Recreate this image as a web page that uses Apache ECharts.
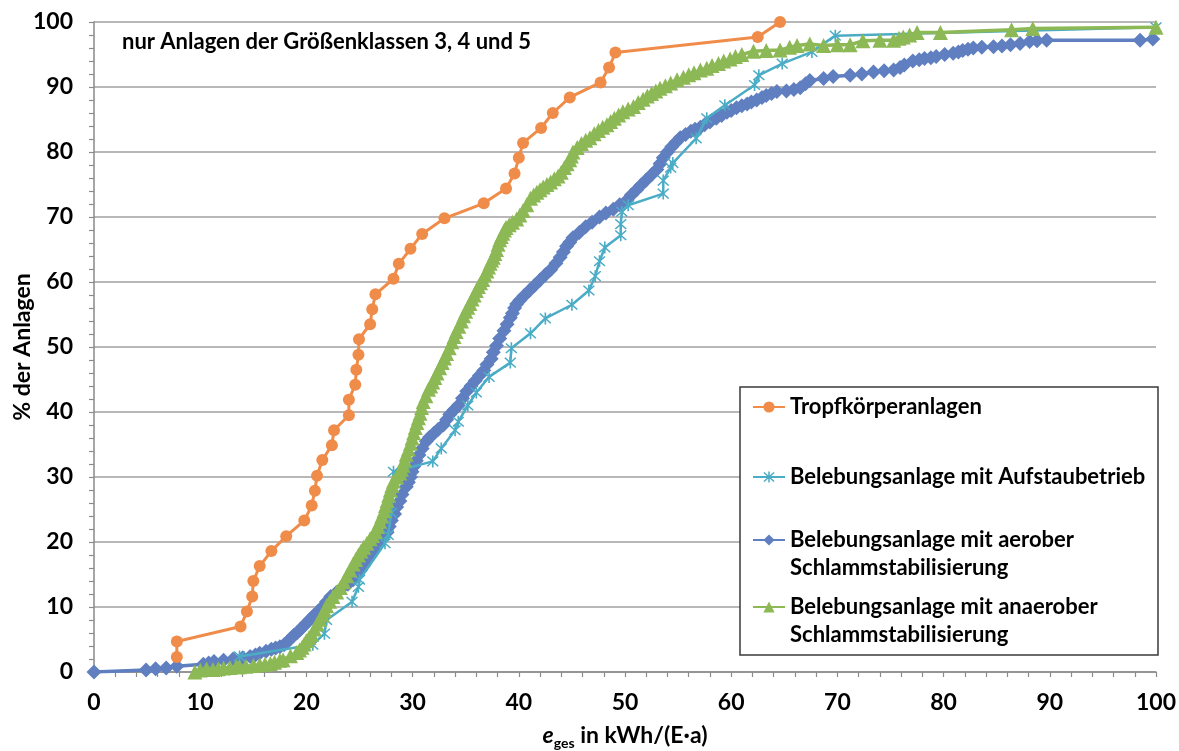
<!DOCTYPE html>
<html><head><meta charset="utf-8">
<script src="https://cdn.jsdelivr.net/npm/echarts@6/dist/echarts.min.js"></script>
<style>html,body{margin:0;padding:0;background:#fff}#c{width:1179px;height:751px}</style>
</head><body><div id="c"></div>
<script>
// ---- data (x: e_ges in kWh/(E·a), y: % der Anlagen) ----
const seriesNames = [
  'Tropfkörperanlagen',
  'Belebungsanlage mit Aufstaubetrieb',
  'Belebungsanlage mit aerober Schlammstabilisierung',
  'Belebungsanlage mit anaerober Schlammstabilisierung'
];
const xTickValues = [0,10,20,30,40,50,60,70,80,90,100];
const yTickValues = [0,10,20,30,40,50,60,70,80,90,100];

const tropf = [[7.8,2.3],[7.8,4.7],[13.8,7.0],[14.4,9.3],[14.9,11.6],[15.0,14.0],[15.6,16.3],[16.7,18.6],[18.1,20.9],[19.8,23.3],[20.5,25.6],[20.8,27.9],[21.0,30.2],[21.5,32.6],[22.4,34.9],[22.6,37.2],[24.0,39.5],[24.0,41.9],[24.6,44.2],[24.7,46.5],[24.9,48.8],[24.95,51.2],[26.0,53.5],[26.2,55.8],[26.5,58.1],[28.2,60.5],[28.7,62.8],[29.8,65.1],[30.9,67.4],[33.0,69.8],[36.7,72.1],[38.8,74.4],[39.6,76.7],[40.0,79.1],[40.4,81.4],[42.1,83.7],[43.2,86.0],[44.8,88.4],[47.7,90.7],[48.5,93.0],[49.1,95.3],[62.5,97.7],[64.6,100]];

const aufstau = [[13.7,2.4],[20.6,4.2],[21.7,5.9],[21.9,8.0],[24.3,10.8],[24.9,13.1],[25.0,14.2],[27.4,19.8],[27.7,21.1],[28.0,24.5],[28.1,27.5],[28.2,30.8],[31.9,32.4],[32.7,34.4],[34.0,37.2],[34.3,38.5],[35.2,41.0],[36.0,43.0],[37.2,45.4],[39.2,47.6],[39.3,49.8],[41.1,52.1],[42.5,54.4],[45.0,56.5],[46.6,58.7],[47.2,60.9],[47.6,63.2],[48.1,65.3],[49.6,67.2],[49.6,68.9],[49.7,70.8],[50.3,71.8],[53.6,73.6],[53.6,75.6],[54.3,77.6],[54.5,78.3],[56.7,82.1],[57.7,85.2],[59.4,87.2],[62.2,90.3],[62.6,91.8],[64.8,93.6],[67.6,95.4],[69.8,97.9],[100,99.2]];

const aerob = [[0,0],[4.9,0.3],[5.8,0.5],[6.8,0.6],[7.8,0.9],[10.3,1.2],[10.8,1.4],[11.3,1.6],[12.2,1.8],[13.1,2.0],[14.0,2.2],[14.7,2.4],[15.2,2.6],[15.6,2.9],[16.2,3.2],[16.7,3.5],[17.1,3.7],[17.5,3.9],[17.9,4.2],
[18.2,4.6],[18.5,5.1],[18.8,5.6],[19.1,6.0],[19.4,6.5],[19.7,7.0],[20.0,7.5],[20.35,8.1],[20.7,8.7],[21.1,9.3],[21.5,10.0],[21.9,10.8],[22.3,11.6],[22.8,12.2],[23.3,12.9],[23.9,13.5],[24.4,14.2],[24.8,14.9],[25.1,15.7],[25.4,16.4],[25.7,17.2],[26.0,17.9],[26.3,18.7],[26.6,19.5],[26.9,20.3],[27.3,20.9],[27.6,21.5],[27.8,22.4],[28.0,23.3],[28.3,24.3],[28.5,25.4],[28.8,26.3],[29.0,27.3],[29.4,28.5],[29.6,29.2],[29.8,30.0],[29.95,30.8],[30.1,31.6],[30.35,32.5],[30.6,33.4],[30.9,34.4],[31.3,35.5],[31.6,36.1],[32.0,36.7],[32.4,37.3],[32.9,38.0],[33.2,38.8],[33.5,39.6],[33.9,40.3],[34.3,41.0],[34.7,42.1],[35.1,43.2],[35.5,44.0],[35.9,44.8],[36.3,45.6],[36.7,46.4],[37.0,47.3],[37.4,48.2],[37.6,49.2],[37.9,50.2],[38.2,51.3],[38.6,52.5],[38.9,53.5],[39.2,54.5],[39.4,55.2],[39.6,56.0],[39.8,56.6],[40.1,57.2],[40.5,57.9],[41.0,58.7],[41.5,59.5],[42.0,60.3],[42.5,61.1],[43.0,61.9],[43.5,62.9],[43.9,63.8],[44.2,64.6],[44.5,65.5],[44.8,66.1],[45.1,66.8],[45.7,67.6],[46.3,68.5],[46.9,69.2],[47.6,70.0],[48.2,70.6],[48.9,71.2],[49.5,71.9],[50.2,72.6],[50.6,73.4],[51.1,74.2],[51.5,74.9],[52.0,75.7],[52.5,76.5],[53.0,77.3],[53.3,78.2],[53.6,79.1],[54.0,80.0],[54.4,80.8],[54.8,81.5],[55.2,82.2],[55.7,82.7],[56.2,83.2],[56.6,83.5],[57.1,83.8],[57.5,84.2],[58.0,84.6],[58.6,85.2],[59.1,85.6],[59.6,86.1],[60.0,86.4],[60.5,86.8],[61.0,87.1],[61.5,87.4],[61.9,87.7],[62.4,88.0],[62.9,88.4],[63.3,88.7],[63.8,89.0],[64.3,89.3],
[65.2,89.4],[65.9,89.6],[66.5,89.9],[67.0,90.5],[67.4,91.0],[68.7,91.3],[69.6,91.6],[71.2,91.8],[72.3,92.0],[73.4,92.3],[74.4,92.5],[75.3,92.6],[75.9,93.0],[76.3,93.4],[77.1,94.0],[77.7,94.2],[78.2,94.4],[78.8,94.5],[79.3,94.7],[80.1,95.0],[80.9,95.2],[81.4,95.4],[81.8,95.6],[82.3,95.8],[82.8,96.0],[83.6,96.1],[84.7,96.2],[85.5,96.3],[86.3,96.5],[87.2,96.7],[88.1,97.0],[88.8,97.1],[89.7,97.2],[98.5,97.2],[99.7,97.4]];

const anaerob = [[9.5,0.0],[10.0,0.3],[10.6,0.5],[11.2,0.4],[11.7,0.5],[12.2,0.6],[12.8,0.7],[13.4,0.8],[13.7,0.8],[14.3,0.9],[15.0,1.0],[15.6,1.1],[16.1,1.2],[16.6,1.3],[17.0,1.5],[17.5,1.8],[17.8,1.9],
[18.5,2.5],[19.1,3.0],[19.35,3.4],[19.6,3.8],[19.8,4.3],[20.0,4.8],[20.25,5.3],[20.5,5.8],[20.75,6.6],[21.0,7.4],[21.25,8.1],[21.5,8.8],[21.7,9.5],[21.9,10.2],[22.2,10.9],[22.5,11.6],[22.85,12.3],[23.2,13.0],[23.5,13.9],[23.8,14.8],[24.1,15.7],[24.4,16.6],[24.65,17.3],[24.9,18.0],[25.15,18.6],[25.4,19.2],[25.7,19.8],[26.0,20.5],[26.25,21.0],[26.5,21.6],[26.7,22.4],[26.9,23.2],[27.1,24.0],[27.3,24.8],[27.45,25.6],[27.6,26.4],[27.75,27.2],[27.9,28.0],[28.05,28.7],[28.2,29.4],[28.5,30.0],[28.8,30.6],[28.95,31.2],[29.1,31.8],[29.25,32.6],[29.4,33.5],[29.6,34.3],[29.8,35.2],[29.95,36.0],[30.1,36.8],[30.25,37.6],[30.4,38.4],[30.55,39.1],[30.7,39.8],[30.85,40.7],[31.0,41.6],[31.25,42.5],[31.5,43.5],[31.7,44.0],[31.9,44.6],[32.1,45.3],[32.3,46.0],[32.55,46.8],[32.8,47.6],[33.0,48.3],[33.2,49.0],[33.45,49.9],[33.7,50.8],[33.9,51.6],[34.1,52.4],[34.35,53.2],[34.6,54.0],[34.8,54.8],[35.0,55.5],[35.2,56.1],[35.4,56.7],[35.6,57.4],[35.8,58.0],[36.0,58.7],[36.2,59.3],[36.4,59.9],[36.6,60.4],[36.8,61.1],[37.0,61.7],[37.15,62.3],[37.3,62.9],[37.45,63.4],[37.6,63.8],[37.75,64.4],[37.9,65.0],[38.05,65.8],[38.2,66.5],[38.35,67.0],[38.5,67.5],[38.65,68.0],[38.8,68.4],[39.1,68.8],[39.4,69.2],[39.8,69.7],[40.1,70.3],[40.4,71.0],[40.75,71.9],[41.1,72.9],[41.4,73.4],[41.7,73.8],[42.0,74.2],[42.3,74.6],[42.65,75.0],[43.0,75.4],[43.35,75.9],[43.7,76.3],[44.0,76.9],[44.3,77.6],[44.55,78.2],[44.8,78.8],[44.95,79.4],[45.1,80.0],[45.5,80.7],[45.9,81.3],[46.3,81.8],[46.7,82.2],[47.1,82.8],[47.5,83.3],[47.9,83.8],[48.3,84.2],[48.65,84.7],[49.0,85.2],[49.4,85.7],[49.8,86.2],[50.3,86.6],[50.8,87.0],[51.25,87.6],[51.7,88.1],[52.1,88.6],[52.5,89.0],[52.9,89.4],[53.3,89.8],[53.8,90.2],[54.3,90.6],[54.9,91.1],[55.5,91.5],[56.0,91.9],[56.5,92.2],[57.1,92.6],[57.7,92.9],[58.2,93.3],[58.8,93.6],[59.3,94.0],[59.9,94.3],[60.4,94.7],[61.0,95.0],[62.1,95.5],[63.3,95.6],[64.6,95.7],
[65.5,96.1],[66.2,96.4],[67.4,96.6],[68.7,96.4],[70.0,96.5],[71.2,96.5],[72.4,97.1],[74.0,97.2],[75.3,97.2],[75.8,97.5],[76.2,97.7],[76.8,98.0],[77.5,98.4],[79.7,98.4],[86.4,98.8],[88.4,99.0],[100,99.2]];

// ---- chart ----
const FONT = 'Lato';
const colors = ['#F08C4A', '#4BACC6', '#5F7FC0', '#8CB955'];
const asterisk = 'path://M4.4,0H5.6V10H4.4Z M0.6,1.4L1.4,0.6L9.4,8.6L8.6,9.4Z M8.6,0.6L9.4,1.4L1.4,9.4L0.6,8.6Z';
const chart = echarts.init(document.getElementById('c'));

const legendTops = [393, 463, 498, 565];
const lh = 28;
const legends = seriesNames.map((n, i) => ({
  show: true,
  data: [n],
  left: 752, top: legendTops[i], orient: 'vertical', padding: 0, z: 10,
  itemWidth: 32, itemHeight: 14,
  formatter: nm => (i >= 2 ? '\n' : '') + nm.replace(' Schlamm', '\nSchlamm'),
  textStyle: { fontFamily: FONT, fontWeight: 'bold', fontSize: 22, color: '#000', lineHeight: lh }
}));

const axisLabelStyle = { fontFamily: FONT, fontWeight: 'bold', fontSize: 23, color: '#000' };

chart.setOption({
  animation: false,
  color: colors,
  grid: { left: 94, right: 23, top: 22, bottom: 79, containLabel: false, outerBoundsMode: 'none' },
  title: {
    text: 'nur Anlagen der Größenklassen 3, 4 und 5',
    left: 122, top: 31, padding: 0,
    textStyle: { fontFamily: FONT, fontWeight: 'bold', fontSize: 22, color: '#000' }
  },
  legend: legends,
  graphic: [{
    type: 'rect', z: 5,
    shape: { x: 740, y: 387, width: 418, height: 268 },
    style: { fill: '#fff', stroke: '#3a3a3a', lineWidth: 1.5 }
  }],
  xAxis: {
    type: 'value', min: 0, max: 100, interval: 10,
    name: '{e|e}{s|ges}{n| in kWh/(E·a)}',
    nameLocation: 'middle', nameGap: 50, nameMoveOverlap: false,
    nameTextStyle: { rich: {
      e: { fontFamily: FONT, fontWeight: 'bold', fontStyle: 'italic', fontSize: 23, color: '#000' },
      s: { fontFamily: FONT, fontWeight: 'bold', fontSize: 14, color: '#000', padding: [14, 0, 0, 0] },
      n: { fontFamily: FONT, fontWeight: 'bold', fontSize: 23, color: '#000' }
    } },
    axisLine: { show: true, lineStyle: { color: '#8a8a8a', width: 1.5 } },
    axisTick: { show: true, inside: false, length: 5, lineStyle: { color: '#8a8a8a', width: 1.2 } },
    minorTick: { show: true, splitNumber: 5, length: 5, lineStyle: { color: '#8a8a8a', width: 1.2 } },
    axisLabel: Object.assign({ margin: 19, formatter: v => xTickValues.includes(v) ? String(v) : '' }, axisLabelStyle),
    splitLine: { show: false }
  },
  yAxis: {
    type: 'value', min: 0, max: 100, interval: 10,
    name: '% der Anlagen', nameLocation: 'middle', nameGap: 60, nameRotate: 90, nameMoveOverlap: false,
    nameTextStyle: { fontFamily: FONT, fontWeight: 'bold', fontSize: 23, color: '#000' },
    axisLine: { show: true, lineStyle: { color: '#8a8a8a', width: 1.5 } },
    axisTick: { show: true, inside: false, length: 5, lineStyle: { color: '#8a8a8a', width: 1.2 } },
    minorTick: { show: true, splitNumber: 5, length: 5, lineStyle: { color: '#8a8a8a', width: 1.2 } },
    axisLabel: Object.assign({ margin: 21, formatter: v => yTickValues.includes(v) ? String(v) : '' }, axisLabelStyle),
    splitLine: { show: true, lineStyle: { color: '#a29f9f', width: 1.5 } }
  },
  series: [
    { name: seriesNames[0], type: 'line', data: tropf, z: 4,
      symbol: 'circle', symbolSize: 12, lineStyle: { width: 3 }, itemStyle: { color: colors[0] } },
    { name: seriesNames[2], type: 'line', data: aerob, z: 2,
      symbol: 'diamond', symbolSize: 15, lineStyle: { width: 3.5 }, itemStyle: { color: colors[2] } },
    { name: seriesNames[1], type: 'line', data: aufstau, z: 3,
      symbol: asterisk, symbolSize: 12, lineStyle: { width: 2.5 }, itemStyle: { color: colors[1] } },
    { name: seriesNames[3], type: 'line', data: anaerob, z: 3,
      symbol: 'triangle', symbolSize: 15, lineStyle: { width: 3.5 }, itemStyle: { color: colors[3] } }
  ]
});
</script></body></html>
